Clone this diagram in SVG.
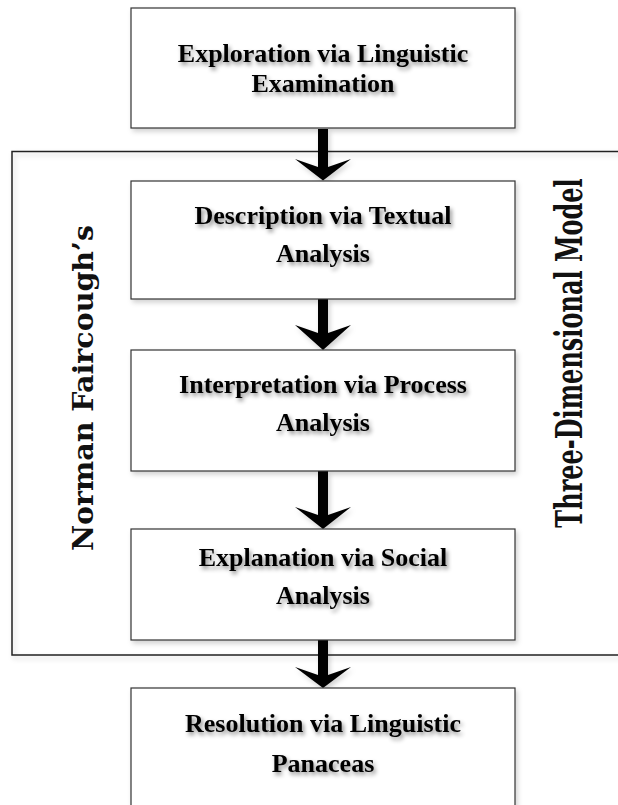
<svg xmlns="http://www.w3.org/2000/svg" width="618" height="805" viewBox="0 0 618 805">
<defs>
<filter id="ts" x="-10%" y="-40%" width="120%" height="180%"><feDropShadow dx="2" dy="3" stdDeviation="2" flood-color="#000" flood-opacity="0.45"/></filter>
<filter id="bs" x="-5%" y="-5%" width="115%" height="115%"><feDropShadow dx="2" dy="3" stdDeviation="2.5" flood-color="#000" flood-opacity="0.18"/></filter>
</defs>
<style>
.box{fill:#fff;stroke:#333;stroke-width:1.2}
.lbl{font-family:"Liberation Serif","Times New Roman",serif;font-weight:bold;font-size:26px;fill:#000;text-anchor:middle}
.side{font-family:"DejaVu Serif",serif;font-weight:bold;fill:#111;text-anchor:middle}
.arr{fill:#000}
</style>
<rect width="618" height="805" fill="#fff"/>
<path d="M630 151.5 H12 V655 H630" fill="none" stroke="#222" stroke-width="1.5" filter="url(#bs)"/>
<text class="side" font-size="28.5" transform="translate(93 388) rotate(-90)">Norman Faircough’s</text>
<text class="side" font-size="24" transform="translate(582 353) rotate(-90) scale(1 1.55)">Three-Dimensional Model</text>
<g id="connectors" filter="url(#bs)">
<path class="arr" d="M318 129 H328 V167 L351 159 L323 180.5 L295 159 L318 167 Z"/>
<path class="arr" d="M318 299 H328 V333 L351 325 L323 350 L295 325 L318 333 Z"/>
<path class="arr" d="M318 471 H328 V515 L351 507 L323 529 L295 507 L318 515 Z"/>
<path class="arr" d="M318 640 H328 V675 L351 667 L323 688 L295 667 L318 675 Z"/>
</g>
<g id="n1"><rect class="box" x="131" y="8" width="384" height="120" filter="url(#bs)"/>
<text class="lbl" filter="url(#ts)"><tspan x="323" y="62">Exploration via Linguistic</tspan><tspan x="323" y="92">Examination</tspan></text></g>
<g id="n2"><rect class="box" x="131" y="181" width="384" height="118" filter="url(#bs)"/>
<text class="lbl" filter="url(#ts)"><tspan x="323" y="224">Description via Textual</tspan><tspan x="323" y="262">Analysis</tspan></text></g>
<g id="n3"><rect class="box" x="131" y="350" width="384" height="121" filter="url(#bs)"/>
<text class="lbl" filter="url(#ts)"><tspan x="323" y="393">Interpretation via Process</tspan><tspan x="323" y="431">Analysis</tspan></text></g>
<g id="n4"><rect class="box" x="131" y="529" width="384" height="111" filter="url(#bs)"/>
<text class="lbl" filter="url(#ts)"><tspan x="323" y="566">Explanation via Social</tspan><tspan x="323" y="604">Analysis</tspan></text></g>
<g id="n5"><rect class="box" x="131" y="688" width="384" height="140" filter="url(#bs)"/>
<text class="lbl" filter="url(#ts)"><tspan x="323" y="732">Resolution via Linguistic</tspan><tspan x="323" y="772">Panaceas</tspan></text></g>
</svg>
